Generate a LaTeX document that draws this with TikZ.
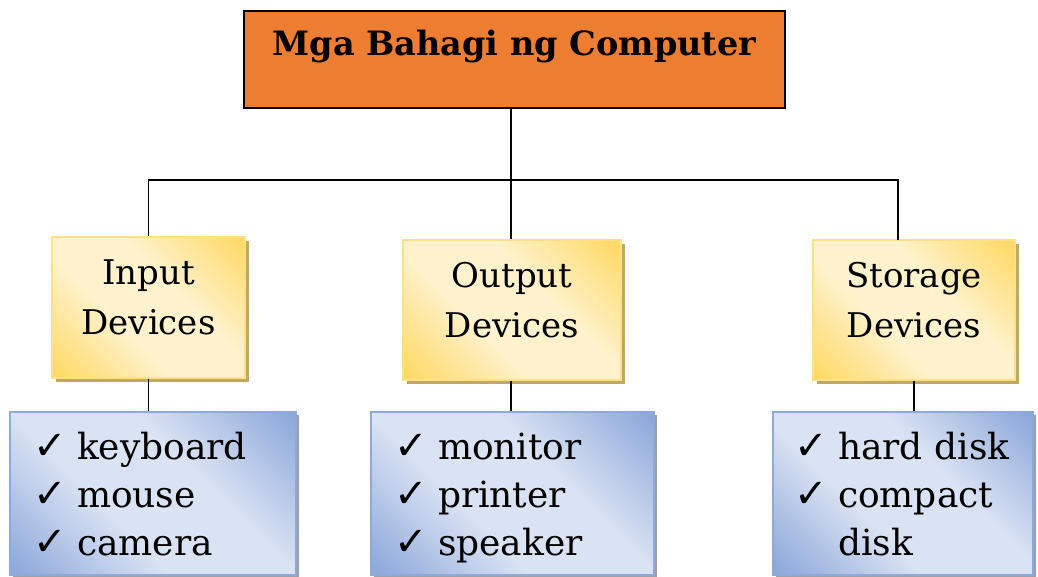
\documentclass[tikz,border=0pt]{standalone}
\usepackage{fontspec}
\setmainfont{DejaVu Serif}
\newfontfamily\chkfont{DejaVu Sans}
\usetikzlibrary{shadows}

\definecolor{titleorange}{HTML}{ED7D31}
\definecolor{ylwdark}{HTML}{FFD966}
\definecolor{ylwlight}{HTML}{FFF2CC}
\definecolor{ylwshadow}{HTML}{BFA764}
\definecolor{bluedark}{HTML}{8EA9DB}
\definecolor{bluelight}{HTML}{DAE3F3}
\definecolor{blueshadow}{HTML}{9A9FA8}

\pgfdeclareverticalshading{ylwshade}{100bp}{color(0bp)=(ylwdark); color(16bp)=(ylwdark);
  color(40bp)=(ylwlight); color(60bp)=(ylwlight); color(84bp)=(ylwdark); color(100bp)=(ylwdark)}
\pgfdeclareverticalshading{blueshade}{100bp}{color(0bp)=(bluedark); color(16bp)=(bluedark);
  color(40bp)=(bluelight); color(60bp)=(bluelight); color(84bp)=(bluedark); color(100bp)=(bluedark)}

\newcommand{\chk}{\strut\makebox[44pt][l]{\chkfont\bfseries\fontsize{40}{48}\selectfont ✓}}
\newcommand{\nochk}{\strut\hspace*{44pt}}
\newcommand{\lift}{\rule[-20pt]{0pt}{20pt}}
\newcommand{\drop}{\rule{0pt}{42pt}}

\tikzset{
  groupbox/.style={draw=ylwdark!80!white, line width=1.2pt,
    shading=ylwshade, shading angle=-45, align=center, inner sep=0pt,
    font=\fontsize{34}{50}\selectfont,
    drop shadow={shadow xshift=4pt, shadow yshift=-4pt, fill=ylwshadow, opacity=1}},
  listbox/.style={draw=bluedark, line width=1.2pt,
    shading=blueshade, shading angle=-45, align=left, inner sep=0pt,
    font=\fontsize{36}{48}\selectfont,
    drop shadow={shadow xshift=3pt, shadow yshift=-3pt, fill=blueshadow, opacity=1}},
}

\begin{document}
\begin{tikzpicture}[x=1pt, y=-1pt, line width=1.3pt]
  \useasboundingbox (0,0) rectangle (1038,577);

  % title
  \node[draw=black, line width=2pt, fill=titleorange, anchor=north,
        minimum width=541, inner sep=0pt, text height=45, text depth=52,
        font=\fontsize{33.5}{38}\selectfont\bfseries]
        (title) at (514.5,10) {Mga Bahagi ng Computer};

  % groups
  \node[groupbox, minimum width=193, minimum height=141] (input) at (148.5,307.5) {Input\\Devices\lift};
  \node[groupbox, minimum width=218, minimum height=140] (output) at (512,310) {Output\\Devices\lift};
  \node[groupbox, minimum width=202, minimum height=140] (storage) at (914,310) {Storage\\Devices\lift};

  % lists
  \node[listbox, minimum width=286, minimum height=163, text width=240] (inlist) at (153,493.5)
        {\drop\chk keyboard\\\chk mouse\\\chk camera};
  \node[listbox, minimum width=283, minimum height=163, text width=237] (outlist) at (512.5,493.5)
        {\drop\chk monitor\\\chk printer\\\chk speaker};
  \node[listbox, minimum width=260, minimum height=163, text width=218] (stlist) at (903,493.5)
        {\drop\chk hard disk\\\chk compact\\\nochk disk};

  % connectors
  \coordinate (hub) at (511,180);
  \coordinate (sdrop) at (898,240);
  \draw (title.south -| hub) -- (hub);
  \draw (input.north) |- (hub) -| (sdrop);
  \draw (hub) -- (hub |- output.north);
  \draw (input.south) -- (inlist.north -| input.south);
  \draw (output.south -| hub) -- (outlist.north -| hub);
  \draw (storage.south) -- (stlist.north -| storage.south);
\end{tikzpicture}
\end{document}
